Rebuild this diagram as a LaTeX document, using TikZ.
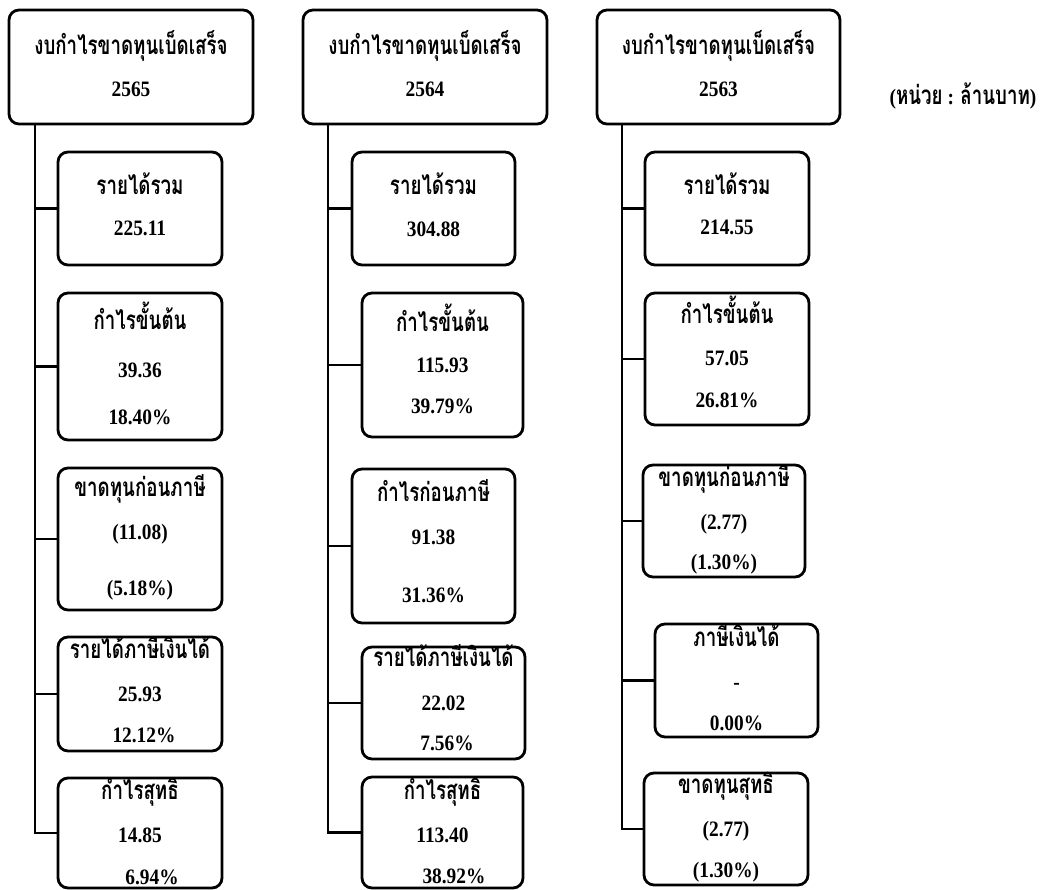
\documentclass[tikz,border=0pt]{standalone}
\usepackage{fontspec}
\setmainfont{Liberation Serif}
\newfontfamily\numfont[FakeStretch=0.88]{Liberation Serif}
\newfontfamily\thaifont[Script=Thai, FakeStretch=0.72]{Loma}
\tikzset{
  card/.style={draw, line width=2.8pt, rounded corners=10pt, inner sep=0pt},
  link/.style={line width=2.8pt},
  num/.style={font=\numfont\bfseries\fontsize{22}{24}\selectfont, inner sep=0pt, anchor=base, yshift=-7.5pt},
  thai/.style={font=\thaifont\bfseries\fontsize{26}{28}\selectfont, inner sep=0pt, anchor=base, yshift=-6.5pt},
}
\begin{document}
\begin{tikzpicture}[x=1pt,y=-1pt]
  \useasboundingbox (0,0) rectangle (1054,890);
  % --- 2565 ---
  \node[card, minimum width=244, minimum height=114] (h1) at (131,67) {};
  \node[thai] (h1a) at (131,48) {งบกำไรขาดทุนเบ็ดเสร็จ};
  \node[num] (h1b) at (131,89) {2565};
  \node[card, minimum width=164, minimum height=113] (c11) at (140,208.5) {};
  \node[thai] (t11a) at (140,188) {รายได้รวม};
  \node[num] (t11b) at (140,228) {225.11};
  \node[card, minimum width=164, minimum height=147] (c12) at (140,366.5) {};
  \node[thai] (t12a) at (140,323) {กำไรขั้นต้น};
  \node[num] (t12b) at (140,370) {39.36};
  \node[num] (t12c) at (140,417) {18.40\%};
  \node[card, minimum width=164, minimum height=142] (c13) at (140,539) {};
  \node[thai] (t13a) at (140,490) {ขาดทุนก่อนภาษี};
  \node[num] (t13b) at (140,532) {(11.08)};
  \node[num] (t13c) at (140,588) {(5.18\%)};
  \node[card, minimum width=164, minimum height=114] (c14) at (140,694) {};
  \node[thai] (t14a) at (140,652) {รายได้ภาษีเงินได้};
  \node[num] (t14b) at (140,694) {25.93};
  \node[num] (t14c) at (144,735) {12.12\%};
  \node[card, minimum width=164, minimum height=110] (c15) at (140,833) {};
  \node[thai] (t15a) at (140,793) {กำไรสุทธิ};
  \node[num] (t15b) at (140,835) {14.85};
  \node[num] (t15c) at (152,877) {6.94\%};
  \coordinate (s1) at (35,124);
  \draw[link] (s1) |- (c15.west);
  \foreach \n in {c11,c12,c13,c14}
    \draw[link] (\n.west) -- (\n.west -| s1);

  % --- 2564 ---
  \node[card, minimum width=244, minimum height=114] (h2) at (425,67) {};
  \node[thai] (h2a) at (425,48) {งบกำไรขาดทุนเบ็ดเสร็จ};
  \node[num] (h2b) at (425,89) {2564};
  \node[card, minimum width=163, minimum height=113] (c21) at (433.5,208.5) {};
  \node[thai] (t21a) at (433.5,188) {รายได้รวม};
  \node[num] (t21b) at (433.5,229) {304.88};
  \node[card, minimum width=161, minimum height=144] (c22) at (442.5,365) {};
  \node[thai] (t22a) at (442.5,325) {กำไรขั้นต้น};
  \node[num] (t22b) at (442.5,365) {115.93};
  \node[num] (t22c) at (442.5,406) {39.79\%};
  \node[card, minimum width=163, minimum height=154] (c23) at (433.5,546) {};
  \node[thai] (t23a) at (433.5,495) {กำไรก่อนภาษี};
  \node[num] (t23b) at (433.5,537) {91.38};
  \node[num] (t23c) at (433.5,595) {31.36\%};
  \node[card, minimum width=163, minimum height=112] (c24) at (443.5,703) {};
  \node[thai] (t24a) at (443.5,660) {รายได้ภาษีเงินได้};
  \node[num] (t24b) at (443.5,703) {22.02};
  \node[num] (t24c) at (447,743) {7.56\%};
  \node[card, minimum width=161, minimum height=111] (c25) at (442.5,832.5) {};
  \node[thai] (t25a) at (442.5,793) {กำไรสุทธิ};
  \node[num] (t25b) at (442.5,835) {113.40};
  \node[num] (t25c) at (454,876) {38.92\%};
  \coordinate (s2) at (328,124);
  \draw[link] (s2) |- (c25.west);
  \foreach \n in {c21,c22,c23,c24}
    \draw[link] (\n.west) -- (\n.west -| s2);

  % --- 2563 ---
  \node[card, minimum width=243, minimum height=114] (h3) at (718.5,67) {};
  \node[thai] (h3a) at (718.5,48) {งบกำไรขาดทุนเบ็ดเสร็จ};
  \node[num] (h3b) at (718.5,89) {2563};
  \node[card, minimum width=164, minimum height=113] (c31) at (727,208.5) {};
  \node[thai] (t31a) at (727,188) {รายได้รวม};
  \node[num] (t31b) at (727,227) {214.55};
  \node[card, minimum width=164, minimum height=132] (c32) at (727,359) {};
  \node[thai] (t32a) at (727,317) {กำไรขั้นต้น};
  \node[num] (t32b) at (727,358) {57.05};
  \node[num] (t32c) at (727,400) {26.81\%};
  \node[card, minimum width=162, minimum height=112] (c33) at (724,521) {};
  \node[thai] (t33a) at (724,480) {ขาดทุนก่อนภาษี};
  \node[num] (t33b) at (724,522) {(2.77)};
  \node[num] (t33c) at (724,562) {(1.30\%)};
  \node[card, minimum width=163, minimum height=113] (c34) at (736.5,680.5) {};
  \node[thai] (t34a) at (736.5,640) {ภาษีเงินได้};
  \node[num] (t34b) at (736.5,682) {-};
  \node[num] (t34c) at (736.5,723) {0.00\%};
  \node[card, minimum width=164, minimum height=112] (c35) at (726,829) {};
  \node[thai] (t35a) at (726,787) {ขาดทุนสุทธิ};
  \node[num] (t35b) at (726,829) {(2.77)};
  \node[num] (t35c) at (726,870) {(1.30\%)};
  \coordinate (s3) at (622,124);
  \draw[link] (s3) |- (c35.west);
  \foreach \n in {c31,c32,c33,c34}
    \draw[link] (\n.west) -- (\n.west -| s3);

  \node[num] (unit) at (963,97) {({\thaifont\fontsize{26}{28}\selectfont หน่วย} \textbf{:} {\thaifont\fontsize{26}{28}\selectfont ล้านบาท})};
\end{tikzpicture}
\end{document}
